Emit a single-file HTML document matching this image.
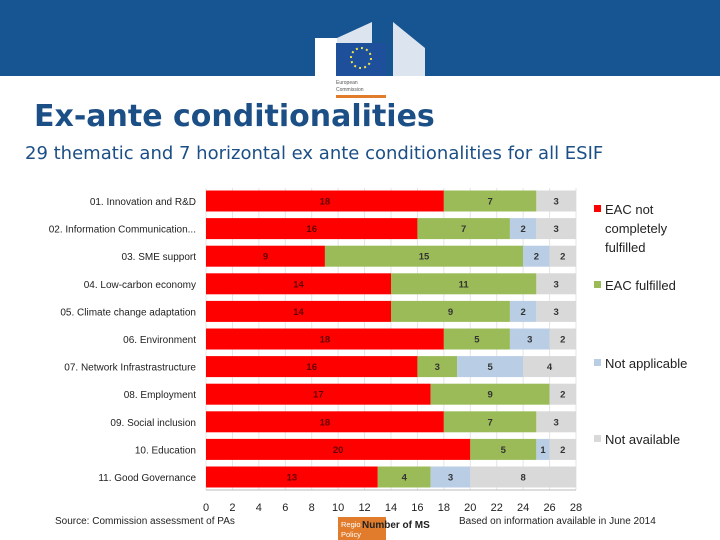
<!DOCTYPE html>
<html><head><meta charset="utf-8"><style>
body{margin:0;width:720px;height:540px;overflow:hidden;background:#fff;font-family:"Liberation Sans",sans-serif;position:relative}
.hdr{position:absolute;left:0;top:0;width:720px;height:76px;background:#175592}
h1{position:absolute;left:34px;top:99px;margin:0;font-family:"DejaVu Sans",sans-serif;font-size:30px;font-weight:bold;color:#1b4f86;white-space:nowrap}
.sub{position:absolute;left:25px;top:143px;font-family:"DejaVu Sans",sans-serif;font-size:18px;color:#1b4f86;white-space:nowrap}
svg{position:absolute;left:0;top:0}
</style></head><body>
<div class="hdr"></div>
<svg width="720" height="540">
 <g fill="#fff">
  <rect x="315" y="38" width="22" height="38"/>
  <polygon points="337,38 372,22 372,76 337,76" opacity="0.85"/>
  <polygon points="393,22 425,48 425,76 393,76" opacity="0.85"/>
 </g>
 <rect x="336" y="43" width="50" height="33" fill="#1d4f9b"/>
 <circle cx="361" cy="58" r="10" fill="none" stroke="#f4e64a" stroke-width="2" stroke-dasharray="2 3.2"/>
 <text x="336" y="84" font-size="5" fill="#555">European</text>
 <text x="336" y="91" font-size="5" fill="#555">Commission</text>
 <rect x="336" y="95" width="50" height="3" fill="#e07c2c"/>
</svg>
<h1>Ex-ante conditionalities</h1>
<div class="sub">29 thematic and 7 horizontal ex ante conditionalities for all ESIF</div>
<svg id="chart" width="720" height="540"></svg>
<script>
const categories=["01. Innovation and R&D","02. Information Communication...","03. SME support","04. Low-carbon economy","05. Climate change adaptation","06. Environment","07.  Network Infrastrastructure","08. Employment","09. Social inclusion","10. Education","11. Good Governance"];
const notFulfilled=[18,16,9,14,14,18,16,17,18,20,13];
const fulfilled=[7,7,15,11,9,5,3,9,7,5,4];
const notApplicable=[0,2,2,0,2,3,5,0,0,1,3];
const notAvailable=[3,3,2,3,3,2,4,2,3,2,8];
const ticks=[0,2,4,6,8,10,12,14,16,18,20,22,24,26,28];
const seriesNames=["EAC not completely fulfilled","EAC fulfilled","Not applicable","Not available"];
const colors=["#ff0000","#9bbb59","#b9cde5","#d9d9d9"];
const NS="http://www.w3.org/2000/svg";
const svg=document.getElementById('chart');
const X0=206,X1=576,xMax=28;
const xs=v=>X0+(X1-X0)*v/xMax;
const ys=i=>201+i*27.6;
const BH=21;
function mk(t,a,p){const e=document.createElementNS(NS,t);for(const k in a)e.setAttribute(k,a[k]);(p||svg).appendChild(e);return e;}
ticks.forEach(t=>{
 const g=mk('line',{x1:xs(t),x2:xs(t),y1:188,y2:490,stroke:'#e4e4e4','stroke-width':1});
 
 
 const tx=mk('text',{x:xs(t),y:511,'font-size':11,'text-anchor':'middle',fill:'#222'});
 tx.textContent=t;
 
 
});
const ax=mk('line',{x1:X0,x2:X1,y1:490,y2:490,stroke:'#bbb'});


const series=[notFulfilled,fulfilled,notApplicable,notAvailable];
categories.forEach((c,i)=>{
 const lb=mk('text',{x:196,y:ys(i)+4,'font-size':10,'text-anchor':'end',fill:'#222'});
 lb.textContent=c;
 
 
 let acc=0;
 series.forEach((s,k)=>{
  const v=s[i];
  if(v>0){
   const r=mk('rect',{x:xs(acc),y:ys(i)-BH/2,width:xs(acc+v)-xs(acc),height:BH,fill:colors[k]});
   
   
   const t=mk('text',{x:xs(acc+v/2),y:ys(i)+3.5,'font-size':9.5,'font-weight':'bold','text-anchor':'middle',fill:k==0?'#600':'#333'});
   t.textContent=v;
   
   
  }
  acc+=v;
 });
});
const legY=[210,286,364,440];
const legLines=[["EAC not","completely","fulfilled"],["EAC fulfilled"],["Not applicable"],["Not available"]];
legLines.forEach((ls,k)=>{
 const r=mk('rect',{x:594,y:legY[k]-5,width:7,height:7,fill:colors[k]});
 
 
 ls.forEach((l,j)=>{
  const t=mk('text',{x:605,y:legY[k]+4+j*19,'font-size':13,fill:'#222'});
  t.textContent=l;
  
  
 });
});
const src=mk('text',{x:55,y:524,'font-size':10,fill:'#222'});src.textContent="Source: Commission assessment of PAs";


const info=mk('text',{x:459,y:524,'font-size':10,fill:'#222'});info.textContent="Based on information available in June 2014";


const ob=mk('rect',{x:338,y:517,width:48,height:23,fill:'#e07c2c'});


const o1=mk('text',{x:341,y:527,'font-size':7.5,fill:'#fff'});o1.textContent="Regio";


const o2=mk('text',{x:341,y:537,'font-size':7.5,fill:'#fff'});o2.textContent="Policy";


const xt=mk('text',{x:362,y:528,'font-size':10,'font-weight':'bold',fill:'#222'});xt.textContent="Number of MS";


</script>
</body></html>
